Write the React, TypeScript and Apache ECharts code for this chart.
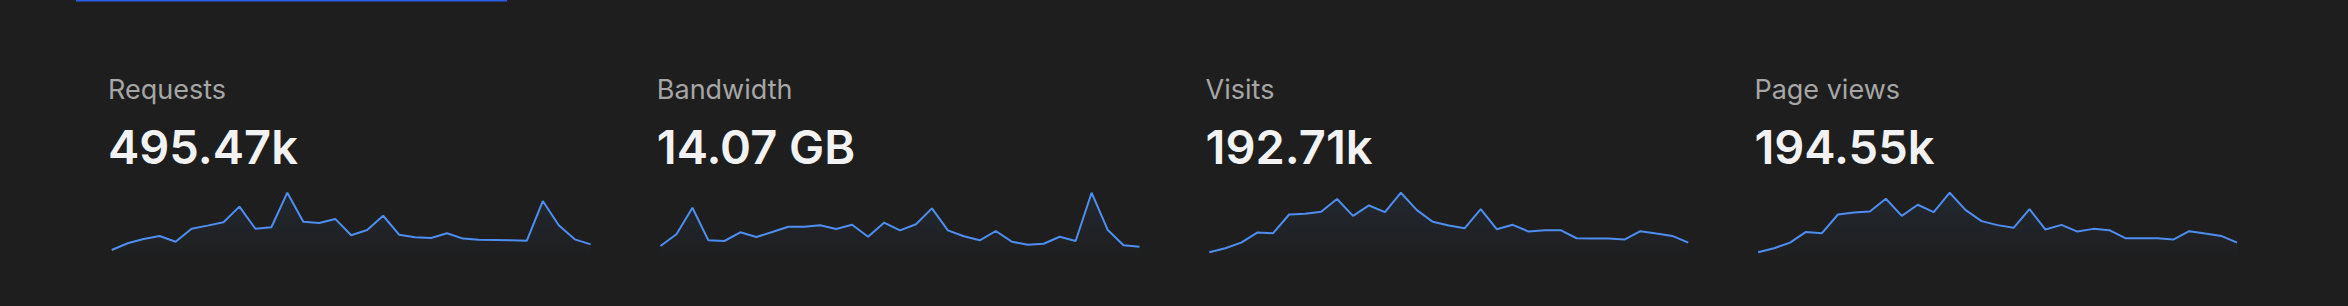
import React, { useEffect, useRef } from "react";
import * as echarts from "echarts";

const titles = ["Requests", "Bandwidth", "Visits", "Page views"];
const totals = ["495.47k", "14.07 GB", "192.71k", "194.55k"];

// Requests per day (thousands)
const requests = [5.4, 9.0, 11.3, 12.9, 9.8, 16.8, 18.5, 20.3, 28.7, 16.8, 17.6, 36.2, 20.6, 19.9, 22.1, 13.3, 16.1, 23.8, 13.6, 12.2, 11.8, 14.4, 11.5, 10.9, 10.8, 10.6, 10.4, 31.7, 18.7, 11.1, 8.4];
// Bandwidth per day (MB)
const bandwidth = [225, 414, 842, 317, 306, 446, 370, 451, 536, 536, 559, 499, 568, 375, 601, 478, 575, 832, 478, 382, 317, 467, 295, 246, 262, 375, 306, 1084, 488, 237, 214];
// Visits per day (thousands)
const visits = [1.42, 2.16, 3.2, 5.05, 4.94, 8.38, 8.51, 8.88, 11.23, 8.14, 10.05, 8.82, 12.4, 9.19, 7.03, 6.35, 5.86, 9.38, 5.68, 6.48, 5.24, 5.49, 5.49, 4.01, 3.94, 3.94, 3.76, 5.31, 4.87, 4.44, 3.2];
// Page views per day (thousands)
const pageViews = [1.43, 2.17, 3.21, 5.19, 4.95, 8.4, 8.77, 8.96, 11.32, 8.16, 10.2, 8.85, 12.43, 9.22, 7.18, 6.44, 5.94, 9.4, 5.62, 6.49, 5.25, 5.75, 5.51, 4.03, 4.03, 4.03, 3.77, 5.32, 4.88, 4.45, 3.21];

const days = requests.map((_, i) => `Day ${i + 1}`);
const seriesData = [requests, bandwidth, visits, pageViews];

export default function App() {
  const ref = useRef<HTMLDivElement>(null);
  useEffect(() => {
    document.body.style.margin = "0";
    document.body.style.overflow = "hidden";
    document.body.style.background = "#1e1e1e";
    if (!ref.current) return;
    const chart = echarts.init(ref.current, null, { renderer: "svg" });
    const cardStep = 548.8;
    const font = "Inter, 'Noto Sans', sans-serif";
    const grids: any[] = [];
    const xAxes: any[] = [];
    const yAxes: any[] = [];
    const series: any[] = [];
    const graphics: any[] = [
      { type: "rect", shape: { x: 76, y: 0, width: 431, height: 1.5 }, style: { fill: "#2b5fe8" } },
    ];
    seriesData.forEach((data, i) => {
      grids.push({ left: 111.7 + cardStep * i, top: 192.7, width: 479, height: 67.3 });
      xAxes.push({ type: "category", data: days, gridIndex: i, boundaryGap: false, show: false });
      yAxes.push({ type: "value", gridIndex: i, min: 0, max: "dataMax", show: false });
      series.push({
        type: "line",
        xAxisIndex: i,
        yAxisIndex: i,
        data,
        showSymbol: false,
        lineStyle: { color: "#4d8ef0", width: 2 },
        itemStyle: { color: "#4d8ef0" },
        areaStyle: {
          color: {
            type: "linear", x: 0, y: 0, x2: 0, y2: 1,
            colorStops: [
              { offset: 0, color: "rgba(77,142,240,0.13)" },
              { offset: 1, color: "rgba(77,142,240,0)" },
            ],
          },
        },
      });
      graphics.push({
        type: "text",
        x: 108 + cardStep * i,
        y: 89.2,
        style: { text: titles[i], fill: "#a6a6a6", font: `400 27px ${font}`, verticalAlign: "middle", align: "left" },
      });
      graphics.push({
        type: "text",
        x: 108 + cardStep * i,
        y: 146,
        style: { text: totals[i], fill: "#f2f2f2", font: `600 47px ${font}`, verticalAlign: "middle", align: "left" },
      });
    });
    chart.setOption({
      animation: false,
      backgroundColor: "#1e1e1e",
      grid: grids,
      xAxis: xAxes,
      yAxis: yAxes,
      series,
      graphic: graphics,
    });
    return () => chart.dispose();
  }, []);
  return <div ref={ref} style={{ width: 2348, height: 306, display: "block" }} />;
}
